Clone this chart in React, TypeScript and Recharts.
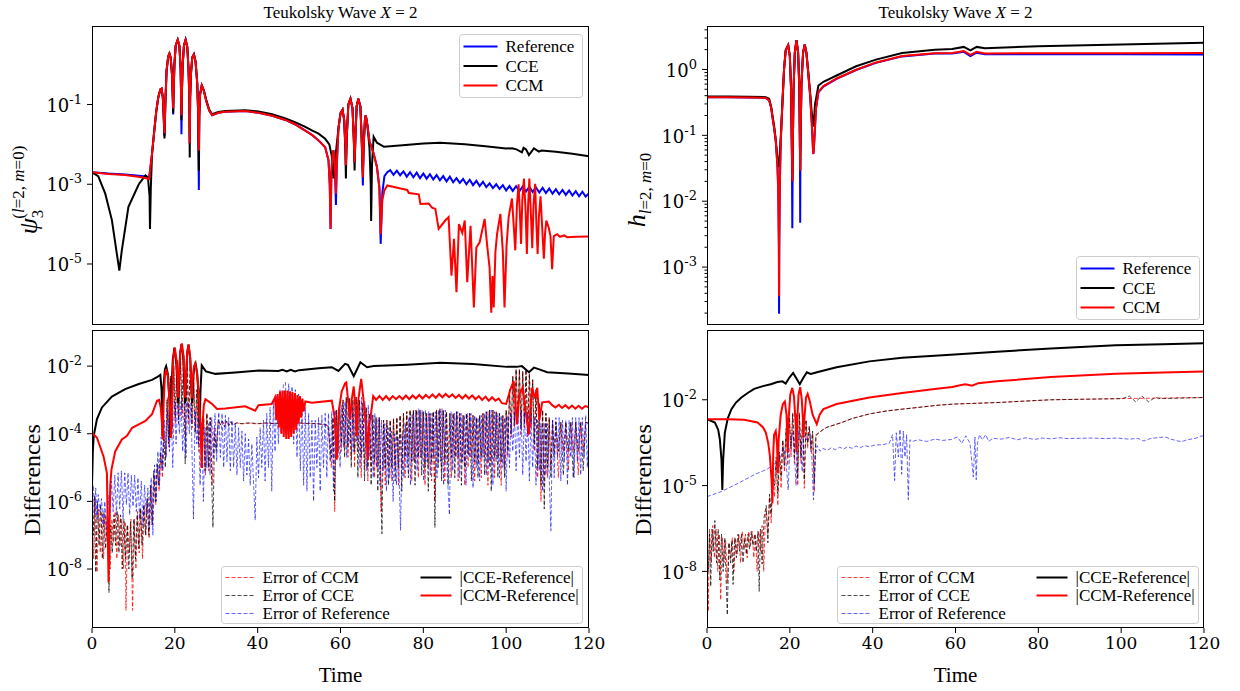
import { LineChart, Line, XAxis, YAxis } from "recharts";

type Pt = [number, number];

const timeTicks = [0, 20, 40, 60, 80, 100, 120];

const psiTicks = [1e-1, 1e-3, 1e-5];
const psiDiffTicks = [1e-2, 1e-4, 1e-6, 1e-8];
const hTicks = [1, 1e-1, 1e-2, 1e-3];
const hMinorTicks = [
  2e-4, 3e-4, 4e-4, 5e-4, 6e-4, 7e-4, 8e-4, 9e-4,
  2e-3, 3e-3, 4e-3, 5e-3, 6e-3, 7e-3, 8e-3, 9e-3,
  2e-2, 3e-2, 4e-2, 5e-2, 6e-2, 7e-2, 8e-2, 9e-2,
  0.2, 0.3, 0.4, 0.5, 0.6, 0.7, 0.8, 0.9, 2, 3, 4,
];
const hDiffTicks = [1e-2, 1e-5, 1e-8];

const psiDomain: [number, number] = [2.95e-7, 9.3];
const psiDiffDomain: [number, number] = [1.8e-10, 0.117];
const hDomain: [number, number] = [1.32e-4, 4.57];
const hDiffDomain: [number, number] = [1.05e-10, 2.75];

// ---- top left: psi_3 ----
const psiReference: Pt[] = [
  [0, 2.0e-3], [4, 1.85e-3], [8, 1.75e-3], [12, 1.6e-3], [13.8, 1.5e-3], [14.5, 5.9e-3], [15.0, 2.0e-2], [15.5, 6.5e-2],
  [16.0, 0.15], [16.5, 0.24], [16.8, 0.25], [17.1, 0.15], [17.3, 0.06], [17.5, 1.6e-2], [17.7, 0.1], [18.0, 0.7],
  [18.4, 1.6], [18.7, 1.9], [19.0, 1.5], [19.3, 0.6], [19.5, 0.15], [19.6, 5.6e-2], [19.7, 0.2], [19.9, 1.0],
  [20.2, 3.0], [20.7, 4.2], [21.1, 3.0], [21.4, 0.8], [21.5, 0.2], [21.6, 1.8e-2], [21.7, 0.2], [21.9, 1.0],
  [22.2, 3.0], [22.6, 4.2], [23.0, 2.8], [23.3, 0.8], [23.5, 0.15], [23.6, 1.05e-2], [23.7, 0.15], [23.9, 0.6],
  [24.2, 1.5], [24.6, 1.8], [25.0, 1.2], [25.4, 0.35], [25.6, 0.08], [25.8, 7.2e-4], [25.9, 0.05], [26.1, 0.18],
  [26.5, 0.3], [27.0, 0.22], [27.6, 0.12], [28.3, 7e-2], [29, 5.4e-2], [30.5, 6.2e-2], [32.2, 6.6e-2], [37, 6.9e-2],
  [40.2, 6.2e-2], [43.5, 5.2e-2], [46.7, 4.1e-2], [49, 3.2e-2], [51.5, 2.2e-2], [53.2, 1.7e-2], [54.7, 1.26e-2],
  [56.3, 8.5e-3], [57.1, 4e-3], [57.4, 1e-3], [57.6, 7.6e-5], [57.8, 2e-3], [58.1, 6e-3], [58.3, 7.1e-3], [58.6, 4e-3],
  [58.9, 3.0e-4], [59.1, 3e-3], [59.5, 2.5e-2], [60.0, 6e-2], [60.5, 7.4e-2], [60.9, 4e-2], [61.2, 8e-3], [61.3, 3e-3],
  [61.5, 1.5e-2], [61.9, 0.1], [62.4, 0.14], [62.9, 8e-2], [63.2, 1.5e-2], [63.4, 3.5e-3], [63.6, 1.5e-2], [63.9, 9e-2],
  [64.3, 0.14], [64.8, 9e-2], [65.1, 1.5e-2], [65.4, 9.3e-4], [65.6, 1e-2], [65.9, 4e-2], [66.1, 5.4e-2], [66.5, 3e-2],
  [67.0, 1.2e-2], [68, 5.9e-3], [68.8, 2.7e-3], [69.4, 8e-4], [69.7, 3.2e-5], [70.1, 6e-4], [70.6, 1.6e-3], [71.3, 2.0e-3],
  [72.0, 2.25e-3], [72.8, 1.72e-3], [73.6, 2.2e-3], [74.4, 1.68e-3], [75.2, 2.1e-3], [76.0, 1.55e-3], [76.8, 2.0e-3],
  [77.6, 1.5e-3], [78.4, 1.95e-3], [79.2, 1.42e-3], [80.0, 1.85e-3], [80.8, 1.38e-3], [81.6, 1.78e-3], [82.4, 1.32e-3],
  [83.2, 1.7e-3], [84.0, 1.25e-3], [84.8, 1.6e-3], [85.6, 1.18e-3], [86.4, 1.55e-3], [87.2, 1.12e-3], [88.0, 1.42e-3],
  [88.8, 1.08e-3], [89.6, 1.35e-3], [90.4, 1.0e-3], [91.2, 1.3e-3], [92.0, 9.5e-4], [92.8, 1.22e-3], [93.6, 9.0e-4],
  [94.4, 1.15e-3], [95.2, 8.5e-4], [96.0, 1.05e-3], [96.8, 8.0e-4], [97.6, 1.0e-3], [98.4, 7.6e-4], [99.2, 9.5e-4],
  [100.0, 7.0e-4], [100.8, 9.0e-4], [101.6, 6.8e-4], [102.4, 8.9e-4], [103.2, 6.7e-4], [104.0, 8.8e-4], [104.8, 6.6e-4],
  [105.6, 8.6e-4], [106.4, 6.4e-4], [107.2, 8.3e-4], [108.0, 6.2e-4], [108.8, 8.1e-4], [109.6, 6.0e-4], [110.4, 7.8e-4],
  [111.2, 5.8e-4], [112.0, 7.5e-4], [112.8, 5.6e-4], [113.6, 7.2e-4], [114.4, 5.4e-4], [115.2, 7.0e-4], [116.0, 5.2e-4],
  [116.8, 6.7e-4], [117.6, 5.0e-4], [118.4, 6.5e-4], [119.2, 4.9e-4], [120.0, 6.0e-4],
];

const psiCCE: Pt[] = [
  [0, 2.0e-3], [1.5, 1.6e-3], [3.2, 5.8e-4], [4.8, 1.26e-4], [6.0, 1.8e-5], [6.6, 6.8e-6], [7.2, 2.2e-5], [8.8, 2.7e-4],
  [11.3, 1.0e-3], [12.9, 1.66e-3], [13.5, 1.5e-3], [13.9, 5e-4], [14.0, 7.6e-5], [14.2, 8e-4], [14.5, 5.9e-3],
  [15.0, 2.0e-2], [15.5, 6.5e-2], [16.0, 0.15], [16.5, 0.24], [16.8, 0.25], [17.1, 0.15], [17.3, 0.05], [17.5, 1.4e-2],
  [17.7, 0.1], [18.0, 0.7], [18.4, 1.6], [18.7, 1.9], [19.0, 1.5], [19.3, 0.6], [19.5, 0.15], [19.6, 6e-2], [19.7, 0.2],
  [19.9, 1.0], [20.2, 3.0], [20.7, 4.2], [21.1, 3.0], [21.4, 0.8], [21.5, 0.2], [21.6, 4e-2], [21.7, 0.2], [21.9, 1.0],
  [22.2, 3.0], [22.6, 4.2], [23.0, 2.8], [23.3, 0.8], [23.5, 0.15], [23.6, 4.7e-3], [23.7, 0.15], [23.9, 0.6],
  [24.2, 1.5], [24.6, 1.8], [25.0, 1.2], [25.4, 0.35], [25.6, 0.08], [25.8, 2.2e-3], [25.9, 0.05], [26.1, 0.18],
  [26.5, 0.3], [27.0, 0.23], [27.6, 0.13], [28.3, 7.5e-2], [29, 5.7e-2], [30.5, 6.5e-2], [32.2, 6.9e-2], [37, 7.2e-2],
  [40.2, 6.7e-2], [43.5, 5.7e-2], [46.7, 4.5e-2], [49, 3.6e-2], [51.5, 2.75e-2], [53.2, 2.2e-2], [54.7, 1.86e-2],
  [56.3, 1.38e-2], [57.3, 1e-2], [57.9, 5e-3], [58.3, 1.4e-3], [58.6, 4e-3], [59.0, 8e-3], [59.5, 2.5e-2], [60.0, 6e-2],
  [60.5, 7.4e-2], [60.9, 4e-2], [61.2, 6e-3], [61.3, 1.4e-3], [61.5, 1.5e-2], [61.9, 0.1], [62.4, 0.14], [62.9, 8e-2],
  [63.2, 1.5e-2], [63.4, 2.2e-3], [63.6, 1.5e-2], [63.9, 9e-2], [64.3, 0.14], [64.8, 9e-2], [65.1, 1.5e-2], [65.4, 2e-3],
  [65.6, 1e-2], [65.9, 4e-2], [66.1, 5.4e-2], [66.5, 3e-2], [67.0, 8e-3], [67.3, 1e-3], [67.4, 1.2e-4], [67.6, 3e-3],
  [68.0, 1.55e-2], [68.8, 1.1e-2], [70.5, 8.7e-3], [75, 9.5e-3], [80, 1.05e-2], [84.1, 1.1e-2], [90, 1.0e-2],
  [95, 9e-3], [100, 7.9e-3], [101.4, 8e-3], [102.5, 7.5e-3], [103.8, 6.3e-3], [104.2, 8.2e-3], [104.8, 7.5e-3],
  [105.5, 5.4e-3], [106.7, 7.9e-3], [107.9, 6.6e-3], [108.5, 7e-3], [112, 6.5e-3], [116, 5.8e-3], [120, 5.0e-3],
];

const psiCCM: Pt[] = [
  [0, 2.0e-3], [4, 1.8e-3], [8, 1.7e-3], [12, 1.5e-3], [13.8, 1.35e-3], [14.5, 5.9e-3], [15.0, 2.0e-2], [15.5, 6.5e-2],
  [16.0, 0.15], [16.5, 0.24], [16.8, 0.25], [17.1, 0.15], [17.3, 0.06], [17.5, 1.9e-2], [17.7, 0.1], [18.0, 0.7],
  [18.4, 1.6], [18.7, 1.9], [19.0, 1.5], [19.3, 0.6], [19.5, 0.17], [19.6, 7.9e-2], [19.7, 0.2], [19.9, 1.0],
  [20.2, 3.0], [20.7, 4.2], [21.1, 3.0], [21.4, 0.8], [21.5, 0.2], [21.6, 5.4e-2], [21.7, 0.2], [21.9, 1.0],
  [22.2, 3.0], [22.6, 4.2], [23.0, 2.8], [23.3, 0.8], [23.5, 0.15], [23.6, 1.05e-2], [23.7, 0.15], [23.9, 0.6],
  [24.2, 1.5], [24.6, 1.8], [25.0, 1.2], [25.4, 0.35], [25.6, 0.08], [25.8, 7e-3], [25.9, 0.05], [26.1, 0.18],
  [26.5, 0.3], [27.0, 0.22], [27.6, 0.12], [28.3, 7e-2], [29, 5.4e-2], [30.5, 6.2e-2], [32.2, 6.6e-2], [37, 6.9e-2],
  [40.2, 6.2e-2], [43.5, 5.2e-2], [46.7, 4.1e-2], [49, 3.2e-2], [51.5, 2.2e-2], [53.2, 1.7e-2], [54.7, 1.26e-2],
  [56.3, 8.5e-3], [57.1, 4e-3], [57.4, 1e-3], [57.6, 7.6e-5], [57.8, 2e-3], [58.1, 6e-3], [58.3, 7.1e-3], [58.6, 4e-3],
  [58.9, 5.8e-4], [59.1, 3e-3], [59.5, 2.5e-2], [60.0, 6e-2], [60.5, 7.4e-2], [60.9, 4e-2], [61.2, 8e-3], [61.3, 3e-3],
  [61.5, 1.5e-2], [61.9, 0.1], [62.4, 0.14], [62.9, 8e-2], [63.2, 1.5e-2], [63.4, 3.5e-3], [63.6, 1.5e-2], [63.9, 9e-2],
  [64.3, 0.14], [64.8, 9e-2], [65.1, 1.5e-2], [65.4, 1.5e-3], [65.6, 1e-2], [65.9, 4e-2], [66.1, 5.4e-2], [66.5, 3e-2],
  [67.0, 1.2e-2], [68, 5.9e-3], [68.8, 2.7e-3], [69.4, 8e-4], [69.7, 5.6e-5], [70.1, 4e-4], [70.6, 7e-4], [71.3, 9.3e-4],
  [74.5, 7.8e-4], [76.1, 7.2e-4], [76.5, 6.0e-4], [78.9, 5.6e-4], [79.3, 3.2e-4], [81.3, 3.3e-4], [82.1, 2.6e-4],
  [82.9, 2.4e-4], [83.7, 7.6e-5], [85.3, 1.23e-4], [86.1, 1.5e-4], [86.8, 5.1e-6], [87.4, 4.3e-5], [88.0, 1.95e-6],
  [88.6, 1.0e-4], [89.4, 6e-5], [90.0, 1.23e-4], [90.6, 3.5e-6], [91.4, 9.1e-5], [92.2, 8.1e-7], [92.8, 2.6e-5],
  [93.6, 3.5e-5], [94.8, 1.35e-4], [95.4, 3e-5], [96.0, 8e-6], [96.4, 6.0e-7], [96.7, 5e-6], [97.0, 8.1e-7], [97.4, 2e-5],
  [97.8, 5.6e-5], [98.6, 1.8e-4], [99.2, 2e-5], [99.6, 8.1e-7], [100.1, 3e-5], [100.6, 1.5e-4], [101.4, 4.4e-4],
  [101.8, 1e-4], [102.2, 2.2e-5], [102.6, 3e-4], [103.0, 1e-3], [103.3, 2e-4], [103.6, 3.2e-5], [103.9, 4e-4],
  [104.3, 1.38e-3], [104.7, 2e-4], [105.0, 1.78e-5], [105.3, 3e-4], [105.6, 1.38e-3], [106.0, 1.5e-4], [106.3, 2.5e-5],
  [106.6, 3e-4], [107.0, 1.02e-3], [107.3, 1e-4], [107.6, 1.78e-5], [107.9, 1.5e-4], [108.3, 5e-4], [108.7, 8e-5],
  [109.1, 1.35e-5], [109.4, 6e-5], [109.7, 1.23e-4], [110.3, 8e-5], [110.7, 5e-5], [111.1, 7.4e-6], [111.5, 5e-5],
  [112.3, 5.6e-5], [113.0, 4.8e-5], [114.0, 5.2e-5], [114.7, 4.7e-5], [117.0, 4.8e-5], [120, 4.9e-5],
];

// ---- top right: h ----
const hReference: Pt[] = [
  [0, 0.38], [5, 0.378], [10, 0.375], [14.2, 0.37], [15.0, 0.34], [15.5, 0.26], [15.8, 0.19], [16.2, 0.13], [16.6, 8.3e-2],
  [17.0, 3.5e-2], [17.2, 1.5e-2], [17.35, 2e-3], [17.4, 1.95e-4], [17.45, 2e-3], [17.6, 2e-2], [17.8, 8e-2], [18.2, 0.3],
  [18.6, 1.0], [19.0, 1.95], [19.6, 2.34], [20.0, 1.6], [20.3, 0.5], [20.5, 5e-2], [20.6, 3.9e-3], [20.7, 5e-2],
  [20.9, 0.5], [21.2, 1.8], [21.6, 2.8], [22.0, 1.8], [22.3, 0.5], [22.45, 5e-2], [22.5, 4.7e-3], [22.55, 5e-2],
  [22.8, 0.6], [23.2, 1.8], [23.6, 2.4], [24.0, 1.8], [24.5, 0.8], [24.9, 0.4], [25.3, 0.15], [25.6, 6e-2], [25.7, 5.2e-2],
  [25.9, 8e-2], [26.3, 0.25], [26.9, 0.45], [28.1, 0.55], [31.3, 0.72], [36, 0.98], [40.8, 1.26], [47.1, 1.58],
  [55, 1.74], [59.2, 1.75], [62, 1.85], [63.6, 1.6], [65.1, 1.8], [67.1, 1.7], [80, 1.7], [100, 1.7], [120, 1.69],
];

const hCCE: Pt[] = [
  [0, 0.39], [5, 0.388], [10, 0.385], [14.2, 0.38], [15.0, 0.36], [15.5, 0.27], [15.8, 0.2], [16.2, 0.14], [16.6, 8.5e-2],
  [17.0, 4.5e-2], [17.3, 3.3e-2], [17.5, 4.5e-2], [17.8, 9e-2], [18.2, 0.3], [18.6, 1.0], [19.0, 1.95], [19.6, 2.34],
  [20.0, 1.6], [20.3, 0.5], [20.5, 6e-2], [20.6, 2.0e-2], [20.7, 6e-2], [20.9, 0.5], [21.2, 1.8], [21.6, 2.8], [22.0, 1.8],
  [22.3, 0.5], [22.45, 6e-2], [22.5, 2.9e-2], [22.55, 6e-2], [22.8, 0.6], [23.2, 1.8], [23.6, 2.4], [24.0, 1.8],
  [24.5, 0.85], [24.9, 0.45], [25.3, 0.22], [25.7, 0.135], [26.1, 0.3], [26.9, 0.57], [28.1, 0.65], [31.3, 0.81],
  [36, 1.12], [40.8, 1.41], [47.1, 1.78], [55, 2.0], [59.2, 2.05], [62, 2.2], [63.6, 1.95], [65.1, 2.2], [67.1, 2.1],
  [80, 2.25], [100, 2.4], [120, 2.55],
];

const hCCM: Pt[] = [
  [0, 0.38], [5, 0.378], [10, 0.375], [14.2, 0.37], [15.0, 0.34], [15.5, 0.26], [15.8, 0.19], [16.2, 0.13], [16.6, 8.3e-2],
  [17.0, 3.5e-2], [17.2, 1.5e-2], [17.35, 3e-3], [17.4, 3.6e-4], [17.45, 3e-3], [17.6, 2e-2], [17.8, 8e-2], [18.2, 0.3],
  [18.6, 1.0], [19.0, 1.95], [19.6, 2.34], [20.0, 1.6], [20.3, 0.5], [20.5, 6e-2], [20.6, 2.0e-2], [20.7, 6e-2],
  [20.9, 0.5], [21.2, 1.8], [21.6, 2.8], [22.0, 1.8], [22.3, 0.5], [22.45, 6e-2], [22.5, 2.9e-2], [22.55, 6e-2],
  [22.8, 0.6], [23.2, 1.8], [23.6, 2.4], [24.0, 1.8], [24.5, 0.8], [24.9, 0.4], [25.3, 0.15], [25.6, 6e-2], [25.7, 5.2e-2],
  [25.9, 8e-2], [26.3, 0.25], [26.9, 0.46], [28.1, 0.56], [31.3, 0.73], [36, 0.99], [40.8, 1.28], [47.1, 1.6],
  [55, 1.77], [59.2, 1.78], [62, 1.9], [63.6, 1.66], [65.1, 1.85], [67.1, 1.75], [80, 1.76], [100, 1.77], [120, 1.78],
];

// ---- bottom left: differences of psi_3 ----
const psiErrCCM: Pt[] = [
  [0.0, 1e-6], [0.4, 2e-8], [0.8, 1.2e-6], [1.2, 8e-9], [1.6, 6e-7], [2.0, 3e-8], [2.4, 5e-7], [2.8, 2e-8], [3.2, 4e-7],
  [3.6, 8e-8], [4.0, 2e-7], [4.4, 1e-8], [4.8, 3e-7], [5.2, 6e-8], [5.6, 5e-7], [6.0, 2e-8], [6.4, 4e-7], [6.8, 5e-8],
  [7.2, 3e-7], [7.6, 1e-8], [8.0, 2.5e-7], [8.2, 6e-10], [8.6, 2e-7], [9.0, 3e-8], [9.4, 3e-7], [9.8, 6e-10], [10.2, 3e-7],
  [10.6, 1e-8], [11.0, 5e-7], [11.4, 3e-8], [11.8, 6e-7], [12.2, 2e-8], [12.6, 8e-7], [13.0, 1e-7], [13.4, 1.2e-6],
  [13.8, 8e-8], [14.2, 3e-6], [14.6, 2e-7], [15.0, 6e-6], [15.4, 8e-7], [15.8, 1.2e-5], [16.2, 2e-6], [16.6, 2.5e-5],
  [17.0, 5e-6], [17.4, 1.2e-4], [17.8, 2e-5], [18.2, 1.2e-3], [18.6, 4e-5], [19.0, 5e-3], [19.4, 1.5e-4], [19.8, 1e-2],
  [20.2, 2e-4], [20.6, 1.5e-2], [21.0, 3e-4], [21.4, 2e-2], [21.8, 3e-4], [22.2, 2e-2], [22.6, 8e-5], [23.0, 1.5e-2],
  [23.4, 2e-4], [23.8, 1e-2], [24.2, 1.5e-4], [24.6, 5e-3], [25.0, 1.2e-4], [25.4, 2e-3], [25.8, 3e-5], [26.2, 6e-4],
  [26.6, 1e-5], [27.0, 3e-4], [27.4, 6e-6], [27.8, 4e-4], [28.2, 8e-6], [28.6, 3e-4], [29.0, 3e-6], [29.5, 1.5e-4],
  [30.0, 4e-5], [30.5, 2.5e-4], [31.0, 1.9e-4], [31.5, 2.3e-4], [32.0, 1.7e-4], [32.5, 2.3e-4], [33.0, 1.8e-4],
  [33.5, 2.2e-4], [34.0, 1.9e-4], [35, 2.1e-4], [36, 1.95e-4], [38, 2.05e-4], [40, 1.95e-4], [42, 2.05e-4], [44, 2.0e-4],
  [46, 2.05e-4], [48, 1.95e-4], [50, 2.05e-4], [52, 2.0e-4], [54, 2.0e-4], [56, 1.85e-4], [57.0, 1.7e-4], [57.8, 1e-5],
  [58.2, 3e-4], [58.6, 5e-7], [59.0, 5e-4], [59.4, 2e-5], [59.8, 8e-4], [60.2, 3e-5], [60.6, 1e-3], [61.0, 4e-5],
  [61.4, 1.2e-3], [61.8, 2e-5], [62.2, 1.1e-3], [62.6, 2e-5], [63.0, 1e-3], [63.4, 1e-5], [63.8, 1.2e-3], [64.2, 3e-5],
  [64.6, 1e-3], [65.0, 5e-6], [65.4, 8e-4], [65.8, 1e-5], [66.2, 6e-4], [66.6, 4e-6], [67.0, 4e-4], [67.4, 1e-5],
  [67.8, 3.5e-4], [68.2, 5e-6], [68.6, 3e-4], [69.0, 1e-5], [69.4, 3e-4], [69.8, 5e-7], [70.4, 2.5e-4], [70.8, 3e-6],
  [71.2, 2.5e-4], [71.6, 1e-5], [72.0, 2.5e-4], [72.4, 4e-6], [72.8, 2.8e-4], [73.2, 1e-5], [73.6, 3e-4], [74.0, 3e-6],
  [74.4, 3.5e-4], [74.8, 1e-5], [75.2, 4e-4], [75.6, 5e-6], [76.0, 4.5e-4], [76.4, 2e-5], [76.8, 5e-4], [77.2, 4e-6],
  [77.6, 5e-4], [78.0, 1.5e-5], [78.4, 5e-4], [78.8, 5e-6], [79.2, 5e-4], [79.6, 2e-5], [80.0, 4.5e-4], [80.4, 3e-6],
  [80.8, 4e-4], [81.2, 1e-5], [81.6, 4e-4], [82.0, 4e-6], [82.4, 4.5e-4], [82.8, 1e-6], [83.2, 5e-4], [83.6, 2e-5],
  [84.0, 5.5e-4], [84.4, 8e-6], [84.8, 5e-4], [85.2, 4e-6], [85.6, 4.5e-4], [86.0, 1.5e-5], [86.4, 4e-4], [86.8, 5e-6],
  [87.2, 4e-4], [87.6, 2e-5], [88.0, 4.5e-4], [88.4, 4e-6], [88.8, 4e-4], [89.2, 1.5e-5], [89.6, 3.5e-4], [90.0, 3e-6],
  [90.4, 4e-4], [90.8, 1e-5], [91.2, 4e-4], [91.6, 2e-5], [92.0, 3.5e-4], [92.4, 4e-6], [92.8, 3e-4], [93.2, 1.5e-5],
  [93.6, 3.5e-4], [94.0, 5e-6], [94.4, 4e-4], [94.8, 2e-5], [95.2, 4.5e-4], [95.6, 3e-6], [96.0, 5e-4], [96.4, 1.5e-5],
  [96.8, 5e-4], [97.2, 5e-6], [97.6, 4.5e-4], [98.0, 2e-5], [98.4, 4e-4], [98.8, 3e-6], [99.2, 3.5e-4], [99.6, 1e-5],
  [100.0, 5e-4], [100.4, 2e-5], [100.8, 2e-3], [101.2, 8e-5], [101.6, 5e-3], [102.0, 1.5e-4], [102.4, 8e-3], [102.8, 2e-4],
  [103.2, 8e-3], [103.6, 1e-4], [104.0, 7e-3], [104.4, 1.5e-4], [104.8, 8e-3], [105.2, 8e-5], [105.6, 6e-3], [106.0, 1.5e-4],
  [106.4, 4e-3], [106.8, 3e-5], [107.2, 2e-3], [107.6, 5e-6], [108.0, 8e-4], [108.4, 1e-6], [108.8, 5e-4], [109.2, 3e-6],
  [109.6, 4e-4], [110.0, 5e-6], [110.4, 3e-4], [110.8, 1e-5], [111.2, 2.5e-4], [111.6, 3e-5], [112.0, 2.2e-4],
  [112.6, 5e-6], [113.2, 2.2e-4], [113.8, 3e-5], [114.4, 2.2e-4], [115.0, 8e-6], [115.6, 2.2e-4], [116.2, 3e-5],
  [116.8, 2.2e-4], [117.4, 6e-6], [118.0, 2.2e-4], [118.6, 3e-5], [119.2, 2.2e-4], [120.0, 2e-4],
];

const psiErrCCE: Pt[] = [
  [0.0, 2e-6], [0.3, 1e-7], [0.6, 1.5e-6], [0.9, 8e-9], [1.3, 1e-6], [1.7, 5e-8], [2.1, 8e-7], [2.5, 2e-8], [2.9, 5e-7],
  [3.3, 4e-8], [3.7, 3e-7], [4.1, 2e-9], [4.5, 2e-7], [4.9, 3e-8], [5.3, 4e-7], [5.7, 5e-8], [6.1, 5e-7], [6.5, 3e-8],
  [6.9, 4e-7], [7.3, 1e-8], [7.7, 3e-7], [8.1, 2e-8], [8.5, 2e-7], [8.9, 1e-8], [9.3, 2.5e-7], [9.7, 5e-9], [10.1, 3e-7],
  [10.5, 2e-8], [10.9, 4e-7], [11.3, 4e-8], [11.7, 6e-7], [12.1, 5e-8], [12.5, 8e-7], [12.9, 1e-7], [13.3, 1.2e-6],
  [13.7, 1e-7], [14.1, 3e-6], [14.5, 2e-7], [14.9, 8e-6], [15.3, 1e-6], [15.7, 1.3e-5], [16.1, 3e-6], [16.5, 3e-5],
  [16.9, 1e-5], [17.3, 1e-4], [17.7, 1e-5], [18.1, 1e-3], [18.5, 5e-5], [18.9, 5e-3], [19.3, 1e-4], [19.7, 1e-2],
  [20.1, 3e-4], [20.5, 1.5e-2], [20.9, 2e-4], [21.3, 2e-2], [21.7, 5e-4], [22.1, 2e-2], [22.5, 1.3e-5], [22.9, 1.5e-2],
  [23.3, 3e-4], [23.7, 1e-2], [24.1, 2e-4], [24.5, 5e-3], [24.9, 1e-4], [25.3, 2e-3], [25.7, 5e-5], [26.1, 5e-4],
  [26.5, 2e-5], [26.9, 3e-4], [27.3, 8e-6], [27.7, 4e-4], [28.1, 1e-5], [28.5, 3e-4], [29.2, 1.7e-7], [29.6, 1e-4],
  [30.0, 3e-5], [30.5, 2.6e-4], [31.0, 1.8e-4], [31.5, 2.4e-4], [32.0, 1.6e-4], [32.5, 2.4e-4], [33.0, 1.7e-4],
  [33.5, 2.3e-4], [34.0, 1.8e-4], [35.0, 2.1e-4], [36.0, 2.0e-4], [38.0, 2.1e-4], [40.0, 2.0e-4], [42.0, 2.1e-4],
  [44.0, 2.0e-4], [46.0, 2.1e-4], [48.0, 2.0e-4], [50.0, 2.1e-4], [52.0, 2.0e-4], [54.0, 2.0e-4], [56.0, 1.9e-4],
  [57.0, 1.8e-4], [57.8, 2e-5], [58.2, 3e-4], [58.6, 1e-6], [59.0, 5e-4], [59.4, 3e-5], [59.8, 8e-4], [60.2, 5e-5],
  [60.6, 1e-3], [61.0, 2e-5], [61.4, 1.2e-3], [61.8, 4e-5], [62.2, 1.1e-3], [62.6, 1e-5], [63.0, 1e-3], [63.4, 3e-5],
  [63.8, 1.2e-3], [64.2, 5e-6], [64.6, 1e-3], [65.0, 2e-5], [65.4, 8e-4], [65.8, 4e-6], [66.2, 6e-4], [66.6, 1e-5],
  [67.0, 4e-4], [67.4, 3e-6], [67.8, 3.5e-4], [68.2, 1.5e-5], [68.6, 3e-4], [69.0, 2e-6], [69.4, 3e-4], [70.0, 1.1e-7],
  [70.4, 2.5e-4], [70.8, 1e-5], [71.2, 2.5e-4], [71.6, 3e-6], [72.0, 2.5e-4], [72.4, 1e-5], [72.8, 2.8e-4], [73.2, 4e-6],
  [73.6, 3e-4], [74.0, 1e-5], [74.4, 3.5e-4], [74.8, 2e-6], [75.2, 4e-4], [75.6, 2e-5], [76.0, 4.5e-4], [76.4, 5e-6],
  [76.8, 5e-4], [77.2, 1.5e-5], [77.6, 5e-4], [78.0, 3e-6], [78.4, 5e-4], [78.8, 2e-5], [79.2, 5e-4], [79.6, 6e-6],
  [80.0, 4.5e-4], [80.4, 1e-5], [80.8, 4e-4], [81.2, 2e-6], [81.6, 4e-4], [82.0, 1.5e-5], [82.4, 4.5e-4], [82.8, 1.7e-7],
  [83.2, 5e-4], [83.6, 1e-5], [84.0, 5.5e-4], [84.4, 4e-6], [84.8, 5e-4], [85.2, 1.5e-5], [85.6, 4.5e-4], [86.0, 3e-6],
  [86.4, 4e-4], [86.8, 2e-5], [87.2, 4e-4], [87.6, 5e-6], [88.0, 4.5e-4], [88.4, 2e-5], [88.8, 4e-4], [89.2, 3e-6],
  [89.6, 3.5e-4], [90.0, 1e-5], [90.4, 4e-4], [90.8, 2.5e-5], [91.2, 4e-4], [91.6, 4e-6], [92.0, 3.5e-4], [92.4, 1.5e-5],
  [92.8, 3e-4], [93.2, 5e-6], [93.6, 3.5e-4], [94.0, 2e-5], [94.4, 4e-4], [94.8, 6e-6], [95.2, 4.5e-4], [95.6, 1.5e-5],
  [96.0, 5e-4], [96.4, 2e-6], [96.8, 5e-4], [97.2, 2e-5], [97.6, 4.5e-4], [98.0, 5e-6], [98.4, 4e-4], [98.8, 1.5e-5],
  [99.2, 3.5e-4], [99.6, 5e-6], [100.0, 5e-4], [100.4, 3e-5], [100.8, 2e-3], [101.2, 1e-4], [101.6, 5e-3], [102.0, 2e-4],
  [102.4, 8e-3], [102.8, 3e-4], [103.2, 8e-3], [103.6, 1.5e-4], [104.0, 7e-3], [104.4, 2e-4], [104.8, 8e-3], [105.2, 1e-4],
  [105.6, 6e-3], [106.0, 2e-4], [106.4, 4e-3], [106.8, 5e-5], [107.2, 2e-3], [107.6, 1e-5], [108.0, 8e-4], [108.4, 3e-6],
  [108.8, 5e-4], [109.2, 6e-7], [109.6, 4e-4], [110.0, 1e-5], [110.4, 3e-4], [110.8, 5e-6], [111.2, 2.5e-4], [111.6, 2e-5],
  [112.0, 2.2e-4], [112.6, 3e-5], [113.2, 2.2e-4], [113.8, 6e-6], [114.4, 2.2e-4], [115.0, 3e-5], [115.6, 2.2e-4],
  [116.2, 5e-6], [116.8, 2.2e-4], [117.4, 3e-5], [118.0, 2.2e-4], [118.6, 8e-6], [119.2, 2.2e-4], [120.0, 2e-4],
];

const psiErrReference: Pt[] = [
  [0.0, 1.5e-6], [0.3, 3e-6], [0.6, 4e-7], [0.9, 2.5e-6], [1.2, 3e-7], [1.5, 1.6e-6], [1.9, 5e-7], [2.3, 1.2e-6],
  [2.7, 2e-7], [3.1, 1e-6], [3.5, 1.5e-7], [3.9, 1.5e-6], [4.3, 3e-7], [4.7, 4e-6], [5.1, 5e-7], [5.5, 6e-6], [5.9, 4e-7],
  [6.3, 7e-6], [6.7, 6e-7], [7.1, 8e-6], [7.5, 3e-7], [7.9, 7e-6], [8.3, 8e-7], [8.7, 7e-6], [9.1, 4e-7], [9.5, 6e-6],
  [9.9, 7e-7], [10.3, 6e-6], [10.7, 5e-7], [11.1, 5e-6], [11.5, 3e-7], [11.9, 4e-6], [12.3, 2e-7], [12.7, 3e-6],
  [13.1, 4e-7], [13.5, 2.5e-6], [13.9, 1.5e-7], [14.3, 5e-6], [14.7, 1e-7], [15.1, 1.2e-5], [15.5, 1e-6], [15.9, 3e-5],
  [16.3, 3e-6], [16.7, 8e-5], [17.1, 8e-6], [17.5, 2.5e-4], [17.9, 2e-5], [18.3, 5e-4], [18.7, 3e-5], [19.1, 8e-4],
  [19.5, 1e-5], [19.9, 9e-4], [20.3, 5e-5], [20.7, 9.5e-4], [21.1, 1e-4], [21.5, 9e-4], [21.9, 3e-5], [22.3, 9e-4],
  [22.7, 2e-5], [23.1, 9e-4], [23.5, 1e-4], [23.9, 8e-4], [24.5, 3e-7], [24.9, 5e-4], [25.3, 5e-5], [25.7, 3e-4],
  [26.1, 3e-6], [26.5, 2e-4], [26.9, 1e-6], [27.3, 1.5e-4], [27.7, 1e-5], [28.1, 2e-4], [28.5, 6e-6], [28.9, 3e-4],
  [29.3, 2e-5], [29.7, 4e-4], [30.1, 1.5e-5], [30.6, 4.3e-4], [31.0, 2e-5], [31.4, 4e-4], [31.8, 1e-5], [32.2, 3.5e-4],
  [32.6, 1.5e-5], [33.0, 3e-4], [33.4, 8e-6], [33.8, 2.5e-4], [34.2, 1e-5], [34.6, 2e-4], [35.0, 6e-6], [35.4, 1.5e-4],
  [35.8, 1e-5], [36.2, 1.2e-4], [36.6, 4e-6], [37.0, 1e-4], [37.4, 6e-6], [37.8, 7e-5], [38.2, 3e-6], [38.6, 5e-5],
  [39.4, 2.8e-7], [39.8, 8e-5], [40.2, 5e-6], [40.6, 1.5e-4], [41.0, 1e-5], [41.4, 2.5e-4], [41.8, 4e-6], [42.2, 4e-4],
  [42.6, 1e-5], [43.0, 6e-4], [43.4, 2e-6], [43.8, 9e-4], [44.2, 3e-5], [44.6, 1.3e-3], [45.0, 5e-5], [45.4, 2e-3],
  [45.8, 1e-4], [46.2, 2.8e-3], [46.7, 3.3e-3], [47.1, 2e-4], [47.5, 3e-3], [47.9, 1e-4], [48.3, 2.5e-3], [48.7, 5e-5],
  [49.1, 2e-3], [49.5, 2e-5], [49.9, 1.5e-3], [50.3, 8e-6], [50.7, 1e-3], [51.1, 3e-6], [51.5, 6e-4], [51.9, 2e-6],
  [52.3, 4e-4], [52.7, 5e-6], [53.1, 2.5e-4], [53.5, 1e-6], [53.9, 2.5e-4], [54.3, 1e-5], [54.7, 3e-4], [55.1, 2e-6],
  [55.5, 3.5e-4], [55.9, 1e-5], [56.3, 4e-4], [56.7, 5e-6], [57.1, 4e-4], [57.5, 1.5e-5], [57.9, 4.5e-4], [58.3, 2e-6],
  [58.7, 5e-4], [59.1, 3e-5], [59.5, 5.5e-4], [59.9, 1e-5], [60.3, 7e-4], [60.7, 4e-5], [61.1, 9e-4], [61.5, 2e-5],
  [61.9, 1e-3], [62.3, 5e-5], [62.7, 9e-4], [63.1, 3e-5], [63.5, 1.1e-3], [63.9, 6e-5], [64.3, 1e-3], [64.7, 1e-5],
  [65.1, 1.2e-3], [65.5, 3e-5], [65.9, 9e-4], [66.3, 8e-6], [66.7, 7e-4], [67.1, 2e-5], [67.5, 5e-4], [67.9, 5e-6],
  [68.3, 4e-4], [68.7, 1e-5], [69.1, 3e-4], [69.5, 3e-6], [69.9, 2.5e-4], [70.3, 8e-6], [70.7, 2e-4], [71.1, 2e-6],
  [71.5, 1.5e-4], [71.9, 5e-6], [72.3, 1.2e-4], [72.7, 1e-6], [73.1, 1e-4], [73.5, 3e-6], [73.9, 8e-5], [74.5, 1.4e-7],
  [74.9, 1e-4], [75.3, 5e-6], [75.7, 2e-4], [76.1, 1e-5], [76.5, 3e-4], [76.9, 3e-6], [77.3, 4e-4], [77.7, 1.5e-5],
  [78.1, 5e-4], [78.5, 8e-6], [78.9, 5.5e-4], [79.3, 2e-5], [79.7, 5e-4], [80.1, 4e-6], [80.5, 5e-4], [80.9, 1.5e-5],
  [81.3, 4.5e-4], [81.7, 6e-6], [82.1, 4e-4], [82.5, 2e-5], [82.9, 4.5e-4], [83.3, 5e-6], [83.7, 5e-4], [84.1, 1.5e-5],
  [84.5, 5.5e-4], [84.9, 3e-6], [85.3, 5e-4], [85.7, 1e-5], [86.3, 4e-7], [86.7, 4.5e-4], [87.1, 8e-6], [87.5, 4e-4],
  [87.9, 2e-5], [88.3, 4.5e-4], [88.7, 5e-6], [89.1, 4e-4], [89.5, 1.5e-5], [89.9, 3.5e-4], [90.3, 3e-6], [90.7, 4e-4],
  [91.1, 2e-5], [91.5, 4e-4], [92.0, 2.5e-6], [92.4, 3.5e-4], [92.8, 1e-5], [93.2, 3e-4], [93.6, 4e-6], [94.0, 3.5e-4],
  [94.4, 2e-5], [94.8, 4e-4], [95.2, 6e-6], [95.6, 4.5e-4], [96.0, 1e-5], [96.4, 5e-4], [96.8, 3e-6], [97.2, 4.5e-4],
  [97.6, 1.5e-5], [98.0, 4e-4], [98.4, 5e-6], [98.8, 3.5e-4], [99.2, 1e-5], [99.6, 3e-4], [100.0, 2e-6], [100.4, 3.5e-4],
  [100.8, 1e-5], [101.2, 4e-4], [101.6, 3e-5], [102.0, 4.5e-4], [102.4, 8e-6], [102.8, 5e-4], [103.2, 2e-5], [103.6, 5e-4],
  [104.0, 6e-6], [104.4, 4.5e-4], [104.8, 1.5e-5], [105.2, 4e-4], [105.6, 4e-6], [106.0, 3.5e-4], [106.4, 1e-5],
  [106.8, 3e-4], [107.2, 3e-6], [107.6, 2.5e-4], [108.0, 8e-6], [108.4, 2e-4], [108.8, 2e-6], [109.2, 2e-4], [109.6, 6e-6],
  [110.0, 2e-4], [110.8, 1.35e-7], [111.2, 2.5e-4], [111.6, 5e-6], [112.0, 3e-4], [112.4, 2e-5], [112.8, 3e-4],
  [113.2, 4e-6], [113.6, 2.5e-4], [114.0, 1.5e-5], [114.4, 2.5e-4], [114.8, 3e-6], [115.2, 2.5e-4], [115.6, 2e-5],
  [116.0, 3e-4], [116.4, 5e-6], [116.8, 3e-4], [117.2, 1.5e-5], [117.6, 3e-4], [118.0, 6e-6], [118.4, 3e-4], [118.8, 2e-5],
  [119.2, 3.5e-4], [119.6, 1e-5], [120.0, 3e-4],
];

const psiDiffCCE: Pt[] = [
  [0, 3e-6], [0.2, 3e-5], [0.4, 8.5e-5], [1.2, 2.7e-4], [2.4, 6e-4], [4.8, 1.26e-3], [8, 2.1e-3], [11.3, 2.95e-3],
  [14.5, 3.9e-3], [15.7, 4.7e-3], [16.5, 5.5e-3], [16.8, 2e-3], [17.0, 8.5e-5], [17.2, 2e-3], [17.6, 8e-3], [17.9, 1e-2],
  [18.3, 6e-3], [18.7, 1e-3], [18.9, 7.6e-5], [19.1, 1e-3], [19.5, 1.5e-2], [19.9, 3.5e-2], [20.3, 1.5e-2], [20.6, 3e-3],
  [20.8, 8e-4], [21.0, 4e-3], [21.3, 2.5e-2], [21.6, 4.5e-2], [22.0, 2e-2], [22.3, 3e-3], [22.5, 8e-4], [22.7, 4e-3],
  [23.0, 2.5e-2], [23.3, 4.3e-2], [23.7, 1.8e-2], [24.0, 3e-3], [24.2, 8e-4], [24.4, 4e-3], [24.7, 1e-2], [25.0, 1.2e-2],
  [25.4, 6e-3], [25.8, 1e-3], [26.0, 1.7e-4], [26.2, 2e-3], [26.5, 1.05e-2], [27.5, 7e-3], [29.8, 5.9e-3],
  [34.6, 6.5e-3], [40.2, 7.4e-3], [45, 7.2e-3], [46, 7.8e-3], [47, 7e-3], [48, 7.8e-3], [49, 7.0e-3], [50, 7.6e-3],
  [54.7, 8.7e-3], [57.9, 9.3e-3], [59.5, 7.2e-3], [61.1, 1.17e-2], [61.8, 1.1e-2], [63.2, 5e-3], [64.8, 1.3e-2],
  [66.4, 9.3e-3], [68, 1.0e-2], [76.1, 1.1e-2], [84.1, 1.26e-2], [92, 1.15e-2], [100.2, 9.5e-3], [102.5, 9.5e-3],
  [103.8, 1.0e-2], [105.5, 6.6e-3], [106.7, 9e-3], [108, 8e-3], [109.9, 6.6e-3], [115, 6e-3], [120, 5.5e-3],
];

const psiDiffCCM: Pt[] = [
  [0, 1.07e-4], [1.2, 7.6e-5], [2.8, 2.1e-5], [3.6, 6.9e-6], [4.0, 4e-9], [4.4, 3e-6], [4.7, 8.7e-6], [5.6, 3e-5],
  [7.2, 6.8e-5], [8.4, 8.5e-5], [9.7, 1.5e-4], [11.3, 1.9e-4], [12.9, 2.4e-4], [14.5, 3.8e-4], [15.7, 9.5e-4],
  [16.2, 1.0e-3], [16.6, 6e-4], [16.9, 2e-4], [17.1, 6.8e-5], [17.3, 8e-4], [17.6, 5e-3], [17.9, 8.3e-3], [18.3, 5e-3],
  [18.7, 1e-3], [19.0, 2e-4], [19.1, 7.6e-5], [19.3, 1e-3], [19.6, 1.5e-2], [20.0, 3.5e-2], [20.4, 1.5e-2], [20.7, 3e-3],
  [20.8, 1.17e-3], [21.0, 4e-3], [21.3, 2.5e-2], [21.7, 4.7e-2], [22.1, 2e-2], [22.4, 3e-3], [22.5, 1.17e-3], [22.7, 4e-3],
  [23.0, 2.5e-2], [23.3, 4.4e-2], [23.7, 1.8e-2], [24.0, 3e-3], [24.1, 1.1e-3], [24.3, 4e-3], [24.6, 9e-3], [24.9, 1.17e-2],
  [25.3, 7e-3], [25.8, 1.5e-3], [26.2, 1.5e-4], [26.5, 9.8e-6], [26.7, 2e-4], [27.0, 7e-4], [27.4, 1.05e-3], [29, 7.6e-4],
  [30.2, 5.4e-4], [32.2, 5.6e-4], [37, 6.5e-4], [39.4, 4.8e-4], [40.2, 7e-4], [43.4, 7.6e-4], [44.2, 1.2e-3],
  [44.5, 2.5e-4], [44.8, 1.5e-3], [45.1, 1.5e-4], [45.4, 1.8e-3], [45.7, 1e-4], [46.0, 1.9e-3], [46.3, 8e-5],
  [46.6, 1.9e-3], [46.9, 7e-5], [47.2, 1.9e-3], [47.5, 7e-5], [47.8, 1.8e-3], [48.1, 8e-5], [48.4, 1.7e-3], [48.7, 1e-4],
  [49.0, 1.6e-3], [49.3, 1.3e-4], [49.6, 1.4e-3], [49.9, 2e-4], [50.2, 1.3e-3], [50.5, 3e-4], [50.8, 1.1e-3],
  [51.1, 4.5e-4], [51.5, 9e-4], [53.1, 8.3e-4], [57.9, 9.5e-4], [58.6, 3e-4], [59.1, 1.7e-5], [59.6, 5e-4], [60.3, 1.8e-3],
  [61.1, 3.1e-3], [61.4, 3.3e-3], [61.9, 8e-4], [62.3, 2.7e-4], [62.7, 1e-3], [63.2, 2.5e-3], [63.6, 6e-4], [63.9, 8.5e-5],
  [64.3, 1e-3], [65.0, 4.2e-3], [65.5, 1.2e-3], [66.0, 2.7e-4], [66.3, 1e-4], [66.6, 1.7e-5], [66.9, 2e-4], [67.2, 2.7e-4],
  [67.9, 1.3e-3], [68.6, 1.0e-3], [69.4, 1.3e-3], [70.2, 1.0e-3], [71.0, 1.3e-3], [71.8, 1.0e-3], [72.6, 1.3e-3],
  [73.4, 1.05e-3], [74.2, 1.3e-3], [75.0, 1.05e-3], [75.8, 1.35e-3], [76.6, 1.05e-3], [77.4, 1.35e-3], [78.2, 1.1e-3],
  [79.0, 1.4e-3], [79.8, 1.1e-3], [80.6, 1.4e-3], [81.4, 1.15e-3], [82.2, 1.45e-3], [83.0, 1.15e-3], [83.8, 1.5e-3],
  [84.6, 1.2e-3], [85.4, 1.5e-3], [86.2, 1.2e-3], [87.0, 1.45e-3], [87.8, 1.15e-3], [88.6, 1.4e-3], [89.4, 1.1e-3],
  [90.2, 1.4e-3], [91.0, 1.1e-3], [91.8, 1.35e-3], [92.6, 1.05e-3], [93.4, 1.3e-3], [94.2, 1.0e-3], [95.0, 1.25e-3],
  [95.8, 9.5e-4], [96.6, 1.2e-3], [97.4, 9.5e-4], [98.2, 1.1e-3], [99.0, 8e-4], [100, 7.6e-4], [101, 2e-3], [101.8, 3.7e-3],
  [102.2, 1e-3], [102.6, 1.9e-4], [103.2, 1.5e-3], [104.0, 2.3e-3], [104.4, 1e-3], [104.7, 5e-4], [105.1, 2e-4],
  [105.5, 9.5e-5], [105.9, 8e-4], [106.3, 2.3e-3], [106.9, 1.1e-3], [107.5, 2.3e-3], [108.0, 2.6e-4], [108.7, 8.5e-4],
  [110.3, 9e-4], [111.1, 7e-4], [111.9, 6e-4], [112.7, 7.2e-4], [113.5, 5.8e-4], [114.3, 7e-4], [115.1, 5.6e-4],
  [115.9, 6.8e-4], [116.7, 5.5e-4], [117.5, 6.7e-4], [118.3, 5.5e-4], [119.1, 6.6e-4], [120, 6e-4],
];

// ---- bottom right: differences of h ----
const hErrCCM: Pt[] = [
  [0.0, 2e-7], [0.3, 4e-10], [0.6, 3e-7], [1.0, 2e-8], [1.4, 4e-7], [1.8, 3e-8], [2.2, 3e-7], [2.6, 1e-8], [3.0, 2e-7],
  [3.3, 1e-9], [3.7, 1.5e-7], [4.1, 2e-8], [4.5, 1.2e-7], [4.9, 4e-9], [5.3, 1e-7], [5.7, 3e-8], [6.1, 1.5e-7], [6.5, 1e-8],
  [6.9, 1.5e-7], [7.3, 4e-8], [7.7, 2e-7], [8.1, 2e-8], [8.5, 2.5e-7], [8.9, 6e-8], [9.3, 2e-7], [9.7, 3e-8],
  [10.1, 2.5e-7], [10.5, 8e-8], [10.9, 2.5e-7], [11.3, 3e-8], [11.7, 2e-7], [12.1, 1e-8], [12.5, 2.5e-7], [12.9, 5e-8],
  [13.3, 4e-7], [13.7, 1e-8], [14.1, 1e-6], [14.3, 1.5e-6], [14.7, 2e-7], [15.1, 4e-6], [15.5, 5e-7], [15.9, 1.5e-5],
  [16.3, 4e-6], [16.7, 8e-5], [17.1, 2e-6], [17.5, 1.2e-4], [17.9, 8e-6], [18.3, 3.5e-4], [18.7, 3e-5], [19.1, 9e-4],
  [19.5, 5e-5], [19.9, 2.2e-3], [20.3, 1e-4], [20.7, 3.2e-3], [21.1, 6e-5], [21.5, 3.3e-3], [21.9, 1e-5], [22.3, 3.3e-3],
  [22.7, 6e-5], [23.1, 2.8e-3], [23.5, 8e-6], [23.9, 1.8e-3], [24.3, 2e-4], [24.7, 1.1e-3], [25.1, 1.5e-4], [25.5, 7e-4],
  [25.9, 6e-6], [26.3, 5.5e-4], [27, 7e-4], [28, 9e-4], [29, 1.1e-3], [31.3, 1.4e-3], [33, 1.7e-3], [35, 2.2e-3],
  [39.2, 3.2e-3], [43, 4e-3], [47.1, 4.7e-3], [52, 5.6e-3], [56, 6.5e-3], [59.8, 7.1e-3], [70, 8e-3], [83, 1.0e-2],
  [100.3, 1.1e-2], [110, 1.15e-2], [120, 1.2e-2],
];

const hErrCCE: Pt[] = [
  [0, 3e-7], [0.3, 1e-8], [0.6, 2e-7], [0.9, 3e-9], [1.2, 3e-7], [1.5, 5e-8], [1.9, 6e-7], [2.3, 2e-8], [2.7, 3e-7],
  [3.1, 5e-9], [3.5, 2e-7], [3.9, 1e-8], [4.3, 1.5e-7], [4.9, 3e-10], [5.3, 1e-7], [5.7, 2e-8], [6.0, 1.2e-7], [6.3, 3.5e-9],
  [6.7, 1.5e-7], [7.1, 3e-8], [7.5, 2e-7], [7.9, 5e-8], [8.3, 2e-7], [8.7, 2e-8], [9.1, 1.5e-7], [9.5, 4e-8], [9.9, 2e-7],
  [10.3, 6e-8], [10.7, 2.5e-7], [11.1, 8e-8], [11.5, 2e-7], [11.9, 5e-8], [12.3, 2.5e-7], [12.6, 2e-9], [12.9, 3e-7],
  [13.3, 1.8e-8], [13.8, 8e-7], [14.3, 2e-6], [14.7, 1e-7], [15.1, 5e-6], [15.5, 1e-6], [15.9, 2e-5], [16.3, 1e-5],
  [16.7, 1e-4], [17.1, 5e-6], [17.5, 1.5e-4], [17.9, 2e-5], [18.3, 4e-4], [18.7, 5e-5], [19.1, 1e-3], [19.5, 1e-4],
  [19.9, 2.5e-3], [20.3, 2e-4], [20.7, 3.5e-3], [21.1, 1e-4], [21.5, 3.5e-3], [21.9, 1.8e-5], [22.3, 3.5e-3], [22.7, 1e-4],
  [23.1, 3e-3], [23.5, 1.6e-5], [23.9, 2e-3], [24.3, 3e-4], [24.7, 1.2e-3], [25.1, 2e-4], [25.5, 8e-4], [25.9, 1.2e-5],
  [26.3, 6e-4], [27, 7e-4], [28, 9e-4], [29, 1.1e-3], [31.3, 1.4e-3], [33, 1.7e-3], [35, 2.2e-3], [39.2, 3.2e-3],
  [43, 4e-3], [47.1, 4.7e-3], [52, 5.6e-3], [56, 6.5e-3], [59.8, 7.1e-3], [70, 8e-3], [83, 1.0e-2], [100.3, 1.1e-2],
  [102, 1.35e-2], [103.5, 8.5e-3], [105, 1.35e-2], [106.6, 8.5e-3], [108.2, 1.2e-2], [109.5, 1.1e-2], [120, 1.2e-2],
];

const hErrReference: Pt[] = [
  [0, 4.1e-6], [3.5, 6.2e-6], [7.5, 1.2e-5], [11.4, 2.4e-5], [14.6, 3.8e-5], [16.5, 6e-5], [17.8, 1.0e-4], [18.5, 2e-4],
  [19.0, 1e-4], [19.6, 7e-6], [20.0, 2e-4], [20.6, 7e-4], [21.0, 3e-4], [21.5, 1e-5], [21.9, 5e-4], [22.3, 8e-4],
  [22.7, 1e-4], [23.0, 3e-5], [23.3, 6e-4], [24.0, 4e-4], [24.9, 6.5e-4], [25.3, 1e-4], [25.7, 3.2e-6], [26.1, 1e-4],
  [26.6, 2.5e-4], [27.3, 1.6e-4], [28, 2e-4], [29, 1.7e-4], [30, 2.1e-4], [31, 1.8e-4], [32, 2.2e-4], [33, 1.9e-4],
  [34, 2.3e-4], [35, 2.0e-4], [36, 2.4e-4], [37, 2.1e-4], [38, 2.5e-4], [39.2, 2.3e-4], [40.5, 2.6e-4], [42.4, 2.7e-4],
  [44, 3e-4], [44.8, 6e-4], [45.3, 1.5e-5], [45.7, 7e-4], [46.2, 1e-4], [46.6, 9.3e-4], [47.0, 2.5e-5], [47.4, 8e-4],
  [47.8, 1e-4], [48.2, 6e-4], [48.6, 3.2e-6], [49.0, 4e-4], [49.6, 3.5e-4], [51, 4e-4], [53, 3.5e-4], [55, 4.2e-4],
  [57, 3.8e-4], [59, 4.1e-4], [60.5, 5e-4], [61.5, 3e-4], [62.5, 5.5e-4], [63.5, 3e-4], [64.3, 2e-5], [64.7, 5e-4],
  [65.0, 1.6e-5], [65.3, 3e-4], [65.8, 6e-4], [66.5, 4e-4], [67.3, 6e-4], [68, 3.5e-4], [69, 4.5e-4], [71, 4.2e-4],
  [73, 4.8e-4], [75, 4.0e-4], [77, 4.7e-4], [79, 4.1e-4], [81, 4.6e-4], [83, 4.3e-4], [85, 4.7e-4], [87, 4.4e-4],
  [90, 4.5e-4], [93, 4.6e-4], [96, 4.4e-4], [99, 4.6e-4], [102, 4.2e-4], [104, 4.5e-4], [105.5, 3.6e-4], [107, 4.4e-4],
  [109, 4.8e-4], [110.6, 5e-4], [112, 4.2e-4], [114.5, 3.4e-4], [116, 4e-4], [118, 4.5e-4], [119.3, 5.4e-4], [120, 5.4e-4],
];

const hDiffCCE: Pt[] = [
  [0, 2.1e-3], [1.9, 1.6e-3], [2.7, 9e-4], [3.1, 4.1e-4], [3.5, 8e-5], [3.7, 7e-6], [3.9, 8e-5], [4.3, 7e-4],
  [5.0, 2.2e-3], [5.9, 4.7e-3], [7.0, 8e-3], [8.3, 1.2e-2], [10, 1.8e-2], [11.4, 2.4e-2], [13.5, 3e-2], [15.4, 3.5e-2],
  [17.0, 4.2e-2], [18.2, 4.4e-2], [19.0, 3.7e-2], [19.9, 6e-2], [20.8, 8.7e-2], [21.6, 5.5e-2], [22.4, 3.5e-2],
  [23.3, 6e-2], [24.1, 9.1e-2], [25.0, 8e-2], [25.7, 8.5e-2], [27, 9.5e-2], [31.3, 0.138], [39.2, 0.22], [47.1, 0.295],
  [59.8, 0.38], [70, 0.48], [83, 0.62], [98.7, 0.81], [110, 0.88], [120, 0.95],
];

const hDiffCCM: Pt[] = [
  [0, 2.1e-3], [5, 2.1e-3], [9, 2.0e-3], [12.2, 1.6e-3], [13.5, 1.1e-3], [14.2, 7.1e-4], [14.8, 3e-4], [15.2, 1.05e-4],
  [15.6, 1.5e-5], [15.8, 2.4e-6], [16.0, 1.5e-4], [16.2, 6e-4], [16.6, 8.1e-4], [16.9, 3e-4], [17.1, 2.75e-5],
  [17.3, 4e-4], [17.8, 3e-3], [18.3, 7e-3], [18.8, 8.7e-3], [19.2, 3e-3], [19.5, 1.4e-4], [19.7, 2e-3], [20.1, 1.5e-2],
  [20.6, 2.6e-2], [21.0, 1.3e-2], [21.4, 1.5e-3], [21.6, 1.5e-4], [21.8, 2e-3], [22.1, 1.5e-2], [22.5, 2.75e-2],
  [22.9, 1e-2], [23.2, 1.5e-3], [23.3, 4.7e-4], [23.5, 2e-3], [23.9, 1.2e-2], [24.3, 1.6e-2], [24.8, 9e-3], [25.5, 3e-3],
  [26.5, 1.4e-3], [27.2, 3e-3], [28.1, 4.7e-3], [31.3, 7.1e-3], [39.2, 1.2e-2], [47.1, 1.74e-2], [55, 2.4e-2],
  [59.2, 2.8e-2], [61.4, 3.3e-2], [62.4, 3.5e-2], [64.0, 3.1e-2], [65.5, 3.8e-2], [70, 4.4e-2], [83, 6.2e-2],
  [98.7, 8.1e-2], [110, 9.0e-2], [120, 9.8e-2],
];

// ---------------------------------------------------------------

const AXIS_W = 70;
const PAD_T = 4;
const PAD_R = 24;
const XAXIS_H = 34;

const SERIF = "'Liberation Serif', 'DejaVu Serif', serif";
const TICK_FONT = "'DejaVu Serif', serif";

type Series = {
  name: string;
  pts: Pt[];
  color: string;
  width: number;
  dash?: string;
  opacity?: number;
};

const rows = (pts: Pt[]) => pts.map(([t, v]) => ({ t, v }));

function LogTick(props: any) {
  const { x, y, payload, majors } = props;
  const edge = x + 8;
  const major = majors.includes(payload.value);
  const exp = Math.round(Math.log10(payload.value));
  return (
    <g>
      <line x1={edge} x2={edge - (major ? 5 : 2.5)} y1={y} y2={y} stroke="#000" strokeWidth={1} />
      {major && (
        <text x={x - 2} y={y} dy="0.4em" textAnchor="end" fontFamily={TICK_FONT} fontSize={18} fill="#000">
          10
          <tspan dy={-8} fontSize={13}>
            {exp}
          </tspan>
        </text>
      )}
    </g>
  );
}

type PanelProps = {
  x: number;
  y: number;
  w: number;
  h: number;
  domain: [number, number];
  ticks: number[];
  minor?: number[];
  timeLabels: boolean;
  series: Series[];
};

function Panel({ x, y, w, h, domain, ticks, minor = [], timeLabels, series }: PanelProps) {
  return (
    <div style={{ position: "absolute", left: x - AXIS_W, top: y - PAD_T }}>
      <LineChart
        width={AXIS_W + w + PAD_R}
        height={PAD_T + h + XAXIS_H}
        margin={{ top: PAD_T, right: PAD_R, bottom: 0, left: 0 }}
      >
        <XAxis
          dataKey="t"
          type="number"
          domain={[0, 120]}
          ticks={timeTicks}
          interval={0}
          allowDataOverflow
          axisLine={false}
          stroke="#000"
          tickSize={5}
          tickMargin={4}
          height={XAXIS_H}
          tick={timeLabels ? { fill: "#000", fontFamily: TICK_FONT, fontSize: 17 } : false}
        />
        <YAxis
          type="number"
          scale="log"
          domain={domain}
          allowDataOverflow
          ticks={[...ticks, ...minor]}
          interval={0}
          width={AXIS_W}
          axisLine={false}
          tickLine={false}
          tickSize={5}
          tickMargin={3}
          tick={(p: any) => <LogTick {...p} majors={ticks} />}
        />
        {series.map((s) => (
          <Line
            key={s.name}
            name={s.name}
            data={rows(s.pts)}
            dataKey="v"
            type="linear"
            stroke={s.color}
            strokeWidth={s.width}
            strokeDasharray={s.dash}
            strokeOpacity={s.opacity ?? 1}
            dot={false}
            activeDot={false}
            isAnimationActive={false}
          />
        ))}
      </LineChart>
      <div
        style={{
          position: "absolute",
          left: AXIS_W,
          top: PAD_T,
          width: w,
          height: h,
          border: "1px solid #000",
          boxSizing: "border-box",
          pointerEvents: "none",
        }}
      />
    </div>
  );
}

type LegendItem = { label: string; color: string; width: number; dash?: string; opacity?: number };

function LegendRow({ x, y, len, item }: { x: number; y: number; len: number; item: LegendItem }) {
  return (
    <g>
      <line
        x1={x}
        x2={x + len}
        y1={y}
        y2={y}
        stroke={item.color}
        strokeWidth={item.width}
        strokeDasharray={item.dash}
        strokeOpacity={item.opacity ?? 1}
      />
      <text x={x + len + 8} y={y} dy="0.35em" fontFamily={SERIF} fontSize={17} fill="#000">
        {item.label}
      </text>
    </g>
  );
}

const mainSeries = (ref: Pt[], cce: Pt[], ccm: Pt[]): Series[] => [
  { name: "Reference", pts: ref, color: "#0000ff", width: 2 },
  { name: "CCE", pts: cce, color: "#000000", width: 2 },
  { name: "CCM", pts: ccm, color: "#ff0000", width: 2 },
];

const diffSeries = (eCCM: Pt[], eCCE: Pt[], eRef: Pt[], dCCE: Pt[], dCCM: Pt[]): Series[] => [
  { name: "Error of CCM", pts: eCCM, color: "#ff0000", width: 1, dash: "4 2", opacity: 0.75 },
  { name: "Error of CCE", pts: eCCE, color: "#000000", width: 1, dash: "4 2", opacity: 0.7 },
  { name: "Error of Reference", pts: eRef, color: "#0000ff", width: 1, dash: "4 2", opacity: 0.6 },
  { name: "|CCE-Reference|", pts: dCCE, color: "#000000", width: 2 },
  { name: "|CCM-Reference|", pts: dCCM, color: "#ff0000", width: 2 },
];

const mainLegend: LegendItem[] = [
  { label: "Reference", color: "#0000ff", width: 2 },
  { label: "CCE", color: "#000000", width: 2 },
  { label: "CCM", color: "#ff0000", width: 2 },
];

const diffLegendLeft: LegendItem[] = [
  { label: "Error of CCM", color: "#ff0000", width: 1, dash: "4 2", opacity: 0.75 },
  { label: "Error of CCE", color: "#000000", width: 1, dash: "4 2", opacity: 0.7 },
  { label: "Error of Reference", color: "#0000ff", width: 1, dash: "4 2", opacity: 0.6 },
];
const diffLegendRight: LegendItem[] = [
  { label: "|CCE-Reference|", color: "#000000", width: 2 },
  { label: "|CCM-Reference|", color: "#ff0000", width: 2 },
];

const LX = 92;
const RX = 707;
const PW = 497;
const TOP_Y = 26;
const TOP_H = 299;
const BOT_Y = 330;
const BOT_H = 298;

function MainLegend({ x, y }: { x: number; y: number }) {
  return (
    <g>
      <rect x={x} y={y} width={123} height={63} rx={3} fill="#fff" fillOpacity={0.85} stroke="#cccccc" />
      {mainLegend.map((it, i) => (
        <LegendRow key={it.label} x={x + 4} y={y + 12 + i * 19.5} len={34} item={it} />
      ))}
    </g>
  );
}

function DiffLegend({ x, y }: { x: number; y: number }) {
  return (
    <g>
      <rect x={x} y={y} width={361} height={57} rx={3} fill="#fff" fillOpacity={0.85} stroke="#cccccc" />
      {diffLegendLeft.map((it, i) => (
        <LegendRow key={it.label} x={x + 4} y={y + 11 + i * 18} len={29} item={it} />
      ))}
      {diffLegendRight.map((it, i) => (
        <LegendRow key={it.label} x={x + 199} y={y + 11 + i * 18} len={31} item={it} />
      ))}
    </g>
  );
}

export default function App() {
  return (
    <div
      style={{
        position: "absolute",
        left: 0,
        top: 0,
        width: 1240,
        height: 691,
        background: "#fff",
        overflow: "hidden",
      }}
    >
      <Panel x={LX} y={TOP_Y} w={PW} h={TOP_H} domain={psiDomain} ticks={psiTicks} timeLabels={false}
        series={mainSeries(psiReference, psiCCE, psiCCM)} />
      <Panel x={LX} y={BOT_Y} w={PW} h={BOT_H} domain={psiDiffDomain} ticks={psiDiffTicks} timeLabels
        series={diffSeries(psiErrCCM, psiErrCCE, psiErrReference, psiDiffCCE, psiDiffCCM)} />
      <Panel x={RX} y={TOP_Y} w={PW} h={TOP_H} domain={hDomain} ticks={hTicks} minor={hMinorTicks} timeLabels={false}
        series={mainSeries(hReference, hCCE, hCCM)} />
      <Panel x={RX} y={BOT_Y} w={PW} h={BOT_H} domain={hDiffDomain} ticks={hDiffTicks} timeLabels
        series={diffSeries(hErrCCM, hErrCCE, hErrReference, hDiffCCE, hDiffCCM)} />

      <svg width={1240} height={691} style={{ position: "absolute", left: 0, top: 0, pointerEvents: "none" }}>
        <text x={LX + PW / 2} y={18} textAnchor="middle" fontFamily={SERIF} fontSize={17} fill="#000">
          Teukolsky Wave <tspan fontStyle="italic">X</tspan> = 2
        </text>
        <text x={RX + PW / 2} y={18} textAnchor="middle" fontFamily={SERIF} fontSize={17} fill="#000">
          Teukolsky Wave <tspan fontStyle="italic">X</tspan> = 2
        </text>

        <text x={LX + PW / 2} y={682} textAnchor="middle" fontFamily={SERIF} fontSize={21} fill="#000">
          Time
        </text>
        <text x={RX + PW / 2} y={682} textAnchor="middle" fontFamily={SERIF} fontSize={21} fill="#000">
          Time
        </text>

        <text transform="translate(37,190) rotate(-90)" textAnchor="middle" fontFamily={SERIF} fontSize={26} fill="#000">
          <tspan fontStyle="italic">ψ</tspan>
          <tspan fontSize={17} dy={6}>3</tspan>
          <tspan fontSize={17} dx={-9} dy={-19}>
            (<tspan fontStyle="italic">l</tspan>=2, <tspan fontStyle="italic">m</tspan>=0)
          </tspan>
        </text>
        <text transform="translate(40,480) rotate(-90)" textAnchor="middle" fontFamily={SERIF} fontSize={24} fill="#000">
          Differences
        </text>
        <text transform="translate(645,190) rotate(-90)" textAnchor="middle" fontFamily={SERIF} fontSize={26} fill="#000">
          <tspan fontStyle="italic">h</tspan>
          <tspan fontSize={17} dy={6}>
            <tspan fontStyle="italic">l</tspan>=2, <tspan fontStyle="italic">m</tspan>=0
          </tspan>
        </text>
        <text transform="translate(651,480) rotate(-90)" textAnchor="middle" fontFamily={SERIF} fontSize={24} fill="#000">
          Differences
        </text>

        <MainLegend x={459.5} y={34.5} />
        <MainLegend x={1076.5} y={256.5} />
        <DiffLegend x={221.5} y={566.5} />
        <DiffLegend x={837.5} y={566.5} />
      </svg>
    </div>
  );
}
